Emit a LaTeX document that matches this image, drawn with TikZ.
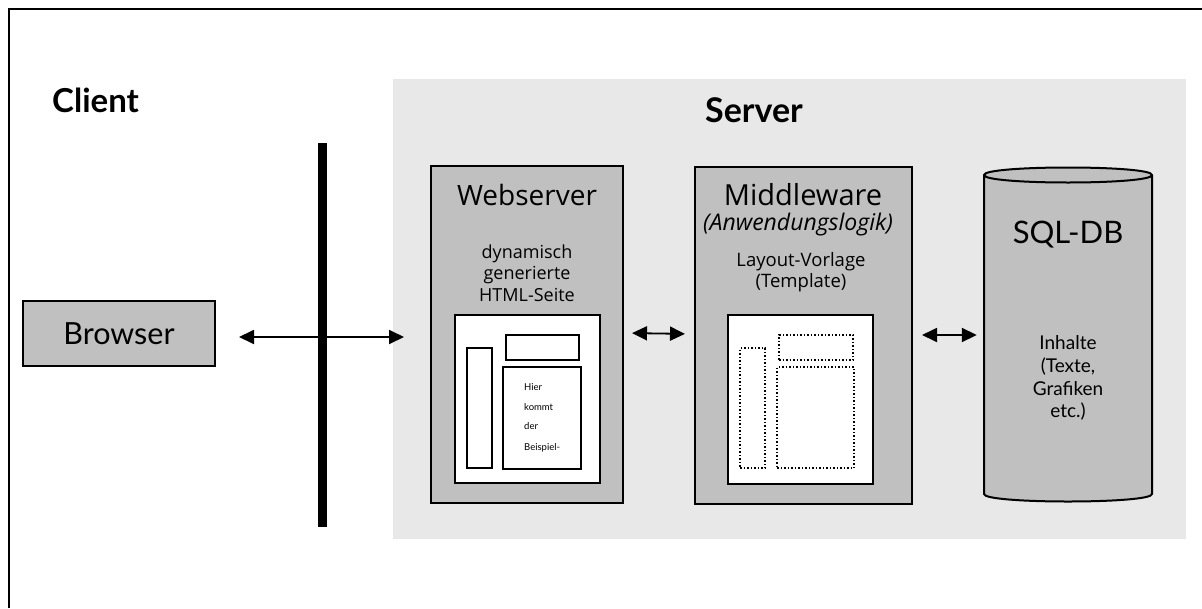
\documentclass[tikz,border=0pt]{standalone}
\usepackage{fontspec}
\usetikzlibrary{arrows.meta}
\newfontfamily\gillf{Lato}
\newfontfamily\segf{Open Sans}
\definecolor{boxgray}{HTML}{C0C0C0}
\definecolor{srvbg}{HTML}{E8E8E8}
\tikzset{
  grbox/.style={draw=black, fill=boxgray, line width=2pt, inner sep=0pt},
  whbox/.style={draw=black, fill=white, line width=2pt, inner sep=0pt},
  smbox/.style={draw=black, fill=white, line width=1.6pt, inner sep=0pt},
  dotbox/.style={draw=black, line width=1.5pt, dotted, inner sep=0pt},
  dblarrow/.style={line width=1.8pt, {Triangle[length=15pt,width=14pt]}-{Triangle[length=15pt,width=14pt]}},
  txt/.style={inner sep=0pt, anchor=base},
}
\begin{document}
\begin{tikzpicture}[x=1pt,y=-1pt]
\useasboundingbox (0,0) rectangle (1202,608);
% outer frame (cut at right/bottom)
\draw[line width=2.5pt] (9,608) -- (9,9) -- (1202,9);
% server background
\fill[srvbg] (393,79) rectangle (1186,539);
% labels
\node[txt, anchor=base west, font=\gillf\bfseries\fontsize{33}{38}\selectfont] (client) at (52,112) {Client};
\node[txt, font=\gillf\bfseries\fontsize{34}{40}\selectfont] (server) at (754,122) {Server};
% separator bar
\draw[line width=9pt] (322,143) -- (322,527);
% browser
\node[grbox, minimum width=192pt, minimum height=65pt, font=\gillf\fontsize{30.5}{36}\selectfont] (browser) at (119,333.5) {Browser};
% webserver
\node[grbox, minimum width=192pt, minimum height=337pt] (web) at (527,334.5) {};
\node[txt, font=\segf\fontsize{28}{33}\selectfont] (webt) at (527,205) {Webserver};
\node[txt, font=\segf\fontsize{18}{21}\selectfont] (webd1) at (527,258) {dynamisch};
\node[txt, font=\segf\fontsize{18}{21}\selectfont] (webd2) at (527,279.5) {generierte};
\node[txt, font=\segf\fontsize{18}{21}\selectfont] (webd3) at (527,301) {HTML-Seite};
\node[whbox, minimum width=145pt, minimum height=168pt] (webpage) at (527.5,399) {};
\node[smbox, minimum width=25pt, minimum height=120pt] (webside) at (479.5,408) {};
\node[smbox, minimum width=73pt, minimum height=25pt] (webhead) at (542.5,347.5) {};
\node[smbox, minimum width=78pt, minimum height=102pt] (webmain) at (542,418) {};
\node[txt, anchor=base west, font=\gillf\fontsize{9.5}{11}\selectfont] (h1) at (524,390) {Hier};
\node[txt, anchor=base west, font=\gillf\fontsize{9.5}{11}\selectfont] (h2) at (524,410) {kommt};
\node[txt, anchor=base west, font=\gillf\fontsize{9.5}{11}\selectfont] (h3) at (524,429) {der};
\node[txt, anchor=base west, font=\gillf\fontsize{9.5}{11}\selectfont] (h4) at (524,450) {Beispiel-};
% middleware
\node[grbox, minimum width=217pt, minimum height=337pt] (mid) at (803.5,335) {};
\node[txt, font=\segf\fontsize{29}{34}\selectfont] (midt) at (803,205) {Middleware};
\node[txt, font=\segf\itshape\fontsize{23}{27}\selectfont] (mids) at (798,230) {(Anwendungslogik)};
\node[txt, font=\segf\fontsize{18.5}{22}\selectfont] (midl1) at (801,266) {Layout-Vorlage};
\node[txt, font=\segf\fontsize{18.5}{22}\selectfont] (midl2) at (801,287) {(Template)};
\node[whbox, minimum width=145pt, minimum height=169pt] (midpage) at (800.5,399.5) {};
\node[dotbox, minimum width=25pt, minimum height=120pt] (midside) at (752.5,408) {};
\node[dotbox, minimum width=74pt, minimum height=25pt] (midhead) at (816,347.5) {};
\node[dotbox, minimum width=77pt, minimum height=101pt] (midmain) at (815.5,417.5) {};
% database cylinder
\node[inner sep=0pt, minimum width=168pt, minimum height=334pt] (db) at (1068,335) {};
\filldraw[fill=boxgray, draw=black, line width=2pt]
  (984,175) -- (984,494) .. controls (984,504) and (1152,504) .. (1152,494)
  -- (1152,175) .. controls (1152,165) and (984,165) .. (984,175) -- cycle;
\draw[line width=2pt] (984,175) .. controls (984,185) and (1152,185) .. (1152,175);
\node[txt, font=\gillf\fontsize{31}{36}\selectfont] (dbt) at (1068,243) {SQL-DB};
\node[txt, font=\gillf\fontsize{19}{22}\selectfont] (dbc1) at (1068,349) {Inhalte};
\node[txt, font=\gillf\fontsize{19}{22}\selectfont] (dbc2) at (1068,372) {(Texte,};
\node[txt, font=\gillf\fontsize{19}{22}\selectfont] (dbc3) at (1068,395) {Grafiken};
\node[txt, font=\gillf\fontsize{19}{22}\selectfont] (dbc4) at (1068,417) {etc.)};
% connectors
\draw[dblarrow, shorten <=23pt, shorten >=26pt] ([yshift=-3.5pt]browser.east) -- ([yshift=-2.5pt]web.west);
\draw[dblarrow, shorten <=8pt, shorten >=9pt] ([yshift=1.5pt]web.east) -- ([yshift=1pt]mid.west);
\draw[dblarrow, shorten <=9pt, shorten >=7pt] (mid.east) -- (db.west);
\end{tikzpicture}
\end{document}
